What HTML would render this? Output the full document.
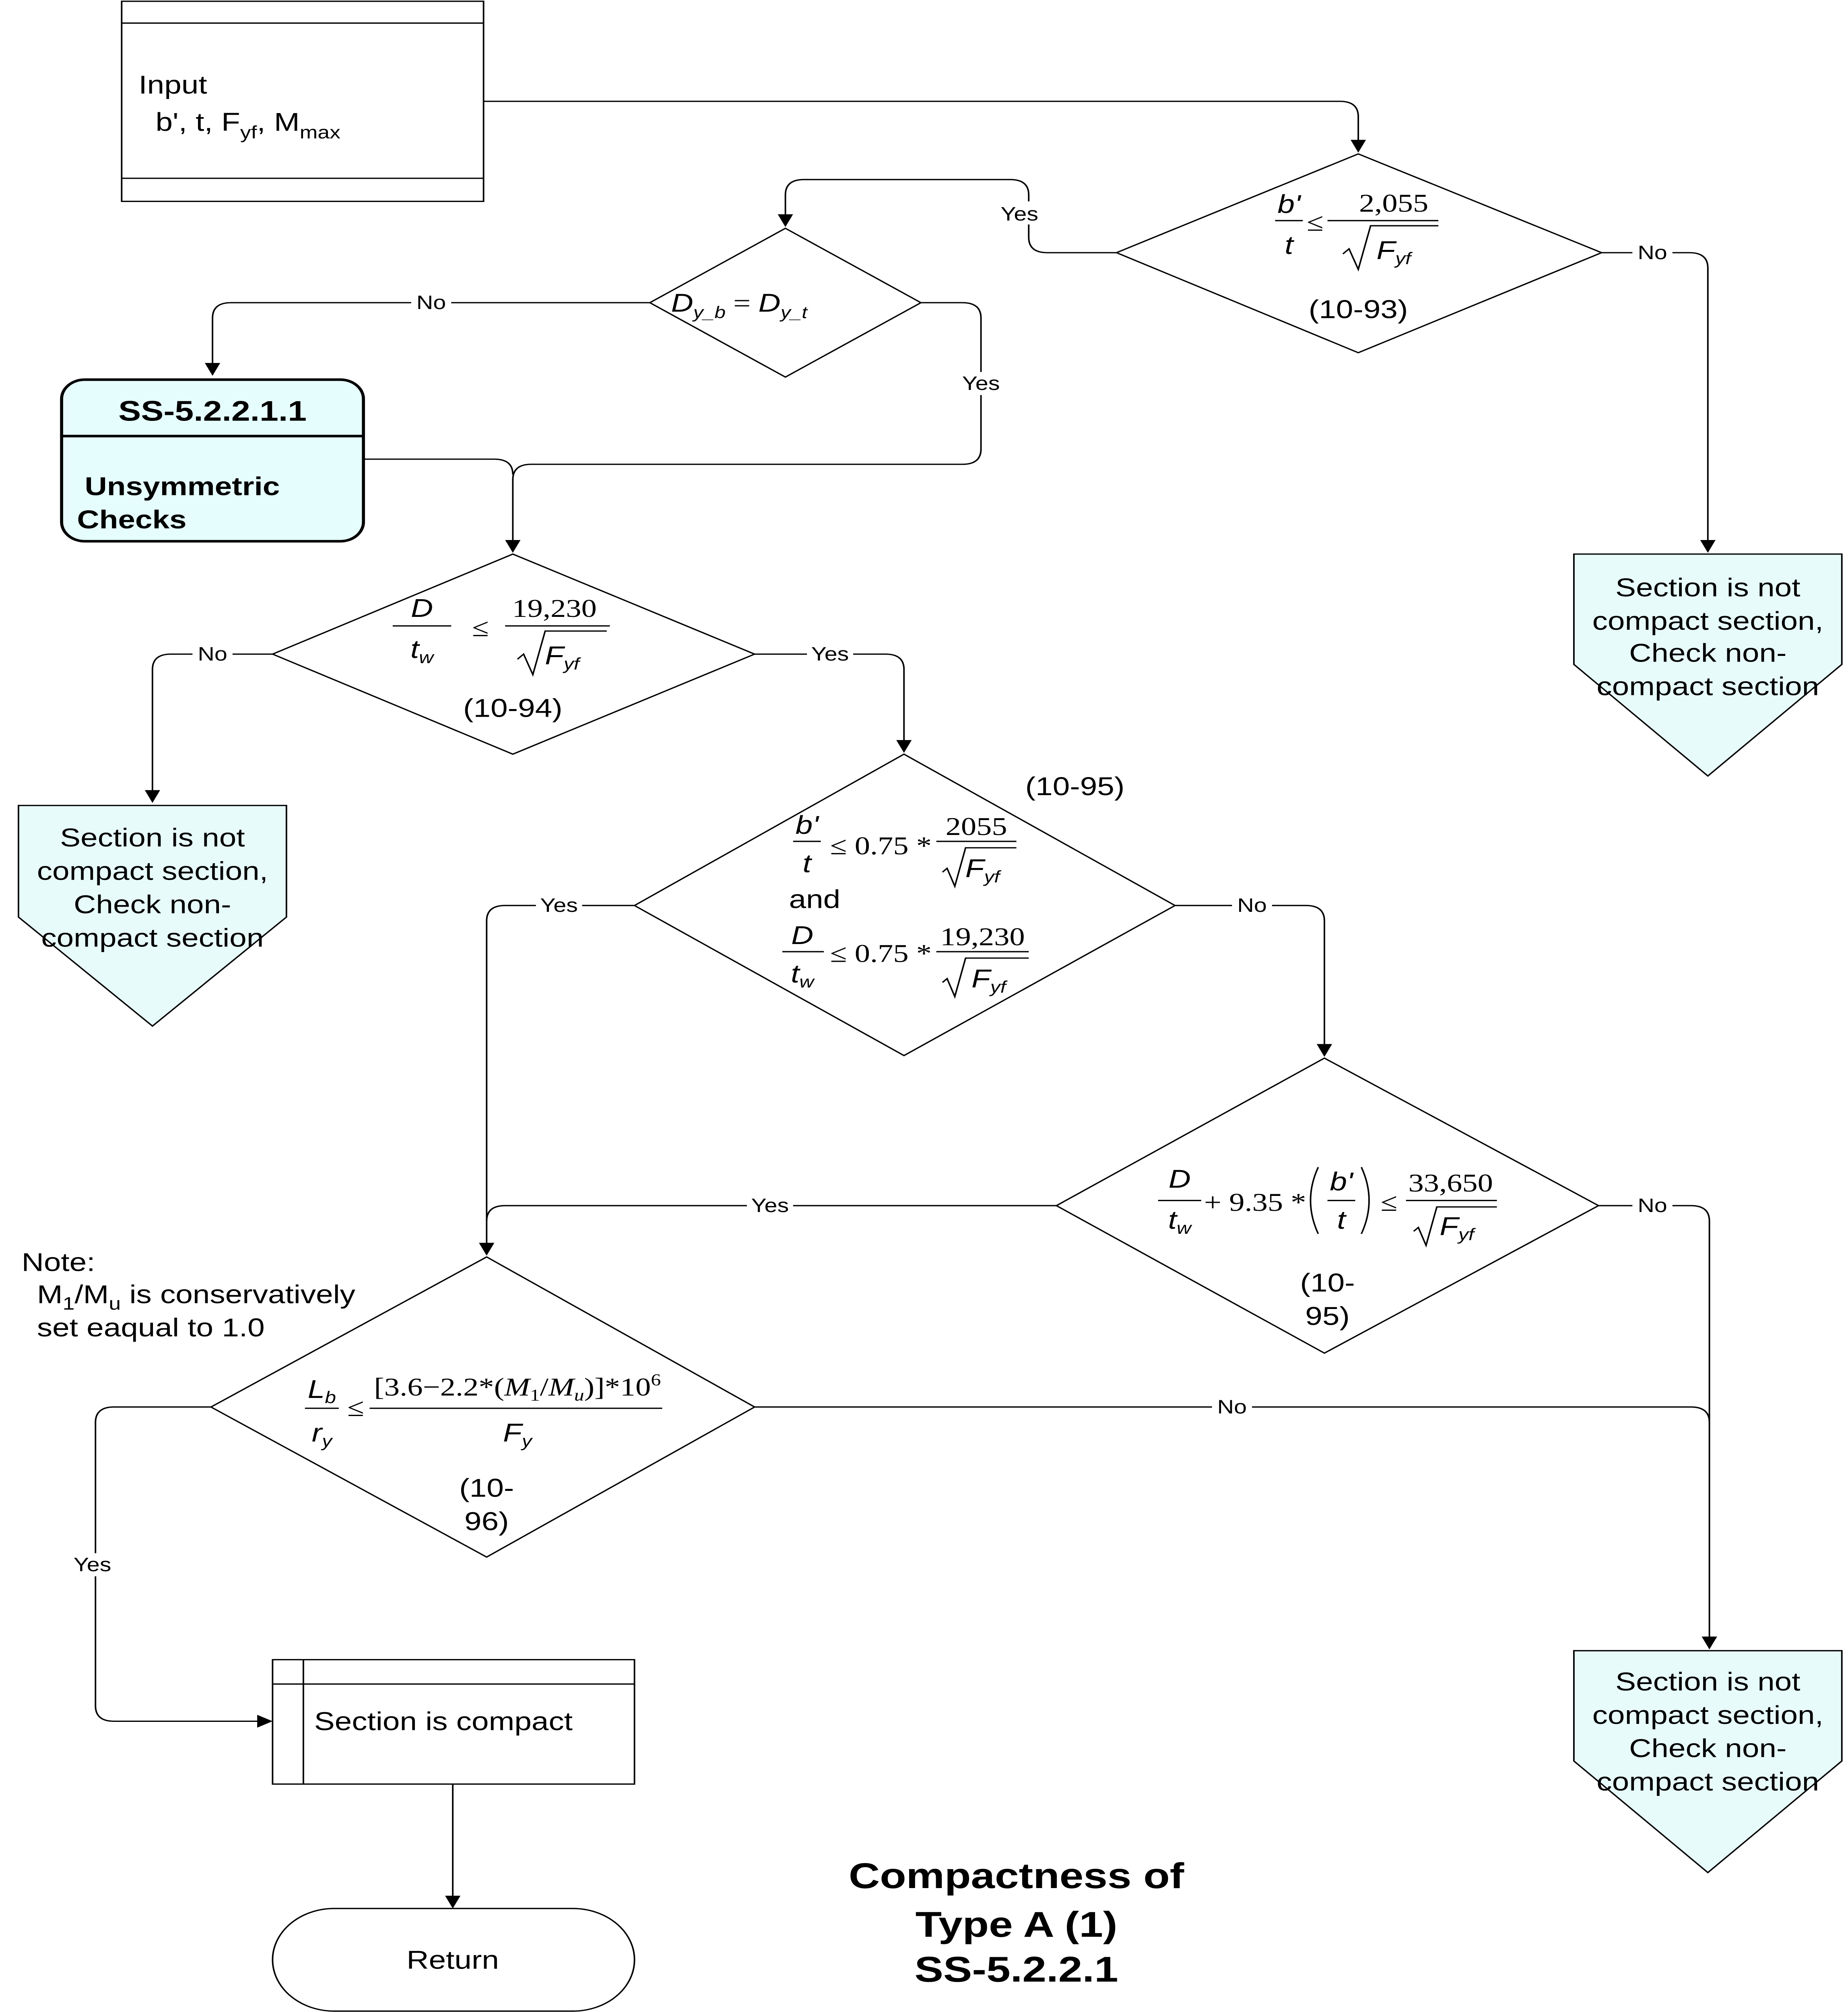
<!DOCTYPE html>
<html><head><meta charset="utf-8"><style>
html,body{margin:0;padding:0;background:#fff;overflow:hidden;}
svg{display:block;position:fixed;left:0;top:0;width:100vw;height:100vh;}
text{font-family:"Liberation Sans",sans-serif;}
.f{font-family:"Liberation Serif",serif;font-style:italic;}
.n{font-family:"Liberation Serif",serif;font-style:normal;}
</style></head><body>
<svg xmlns="http://www.w3.org/2000/svg" viewBox="0 0 1200 1568.7" preserveAspectRatio="none">
<defs><marker id="a" markerWidth="10" markerHeight="10" refX="9" refY="5" orient="auto" markerUnits="userSpaceOnUse"><path d="M0,0 L10,5 L0,10 z" fill="#000"/></marker></defs>
<rect width="1200" height="1568.7" fill="#fff"/>
<g fill="none" stroke="#000" stroke-width="1">
<rect x="79" y="1" width="235" height="156"/>
<line x1="79" y1="18" x2="314" y2="18"/><line x1="79" y1="139" x2="314" y2="139"/>
<path d="M314,79 H870 Q882,79 882,91 V118" marker-end="url(#a)"/>
<path d="M725,197 H680 Q668,197 668,185 V152 Q668,140 656,140 H522 Q510,140 510,152 V176" marker-end="url(#a)"/>
<path d="M1040,197 H1097 Q1109,197 1109,209 V430" marker-end="url(#a)"/>
<path d="M422,236 H150 Q138,236 138,248 V292" marker-end="url(#a)"/>
<path d="M598,236 H625 Q637,236 637,248 V350 Q637,362 625,362 H345 Q333,362 333,374 V430" marker-end="url(#a)"/>
<path d="M236,358 H321 Q333,358 333,370"/>
<path d="M177,510 H111 Q99,510 99,522 V625" marker-end="url(#a)"/>
<path d="M490,510 H575 Q587,510 587,522 V586" marker-end="url(#a)"/>
<path d="M412,706 H328 Q316,706 316,718 V978" marker-end="url(#a)"/>
<path d="M763,706 H848 Q860,706 860,718 V823" marker-end="url(#a)"/>
<path d="M686,940 H328 Q316,940 316,952"/>
<path d="M1038,940 H1098 Q1110,940 1110,952 V1285" marker-end="url(#a)"/>
<path d="M490,1097 H1098 Q1110,1097 1110,1109"/>
<path d="M137,1097 H74 Q62,1097 62,1109 V1330 Q62,1342 74,1342 H176" marker-end="url(#a)"/>
<path d="M294,1391 V1487" marker-end="url(#a)"/>
<path d="M725,197 L882,120 L1040,197 L882,275 Z"/>
<path d="M422,236 L510,178 L598,236 L510,294 Z"/>
<path d="M177,510 L333,432 L490,510 L333,588 Z"/>
<path d="M412,706 L587,588 L763,706 L587,823 Z"/>
<path d="M686,940 L860,825 L1038,940 L860,1055 Z"/>
<path d="M137,1097 L316,980 L490,1097 L316,1214 Z"/>
<rect x="177" y="1294" width="235" height="97"/>
<line x1="177" y1="1313" x2="412" y2="1313"/><line x1="197" y1="1294" x2="197" y2="1391"/>
<rect x="177" y="1488" width="235" height="80" rx="40"/>
</g>
<rect x="40" y="296" width="196" height="126" rx="15" fill="#e6fdfd" stroke="#000" stroke-width="2"/>
<line x1="40" y1="340" x2="236" y2="340" stroke="#000" stroke-width="2"/>
<g fill="#e8fbfb" stroke="#000" stroke-width="1">
<path d="M12,628 H186 V715 L99,800 L12,715 Z"/>
<path d="M1022,432 H1196 V518 L1109,605 L1022,518 Z"/>
<path d="M1022,1287 H1196 V1373 L1109,1460 L1022,1373 Z"/>
</g>
<g font-size="15" text-anchor="middle">
<rect x="648" y="157" width="30" height="18" fill="#fff"/><text x="662" y="172">Yes</text>
<rect x="1060" y="189" width="26" height="16" fill="#fff"/><text x="1073" y="202">No</text>
<rect x="267" y="228" width="26" height="16" fill="#fff"/><text x="280" y="241">No</text>
<rect x="622" y="290" width="30" height="18" fill="#fff"/><text x="637" y="304">Yes</text>
<rect x="125" y="502" width="26" height="16" fill="#fff"/><text x="138" y="515">No</text>
<rect x="524" y="502" width="30" height="16" fill="#fff"/><text x="539" y="515">Yes</text>
<rect x="348" y="698" width="30" height="16" fill="#fff"/><text x="363" y="711">Yes</text>
<rect x="800" y="698" width="26" height="16" fill="#fff"/><text x="813" y="711">No</text>
<rect x="485" y="932" width="30" height="16" fill="#fff"/><text x="500" y="945">Yes</text>
<rect x="1060" y="932" width="26" height="16" fill="#fff"/><text x="1073" y="945">No</text>
<rect x="787" y="1089" width="26" height="16" fill="#fff"/><text x="800" y="1102">No</text>
<rect x="45" y="1211" width="30" height="18" fill="#fff"/><text x="60" y="1225">Yes</text>
</g>
<g font-size="20">
<text x="90" y="73">Input</text>
<text x="101" y="102">b', t, F<tspan font-size="14" dy="6">yf</tspan><tspan dy="-6">, M</tspan><tspan font-size="14" dy="6">max</tspan></text>
<text x="204" y="1349">Section is compact</text>
<text x="294" y="1535" text-anchor="middle">Return</text>
<text x="14" y="991">Note:</text>
<text x="24" y="1016">M<tspan font-size="14" dy="5">1</tspan><tspan dy="-5">/M</tspan><tspan font-size="14" dy="5">u</tspan><tspan dy="-5"> is conservatively</tspan></text>
<text x="24" y="1042">set eaqual to 1.0</text>
<g text-anchor="middle">
<text x="882" y="248">(10-93)</text>
<text x="333" y="559">(10-94)</text>
<text x="698" y="620">(10-95)</text>
<text x="862" y="1007">(10-</text><text x="862" y="1033">95)</text>
<text x="316" y="1167">(10-</text><text x="316" y="1193">96)</text>
<text x="99" y="660">Section is not</text><text x="99" y="686">compact section,</text><text x="99" y="712">Check non-</text><text x="99" y="738">compact section</text>
<text x="1109" y="465">Section is not</text><text x="1109" y="491">compact section,</text><text x="1109" y="516">Check non-</text><text x="1109" y="542">compact section</text>
<text x="1109" y="1318">Section is not</text><text x="1109" y="1344">compact section,</text><text x="1109" y="1370">Check non-</text><text x="1109" y="1396">compact section</text>
<text x="529" y="708">and</text>
</g>
<text x="138" y="328" font-weight="bold" font-size="22" text-anchor="middle">SS-5.2.2.1.1</text>
<text x="55" y="386" font-weight="bold">Unsymmetric</text>
<text x="50" y="412" font-weight="bold">Checks</text>
</g>
<g font-size="28" font-weight="bold" text-anchor="middle">
<text x="660" y="1472">Compactness of</text>
<text x="660" y="1510">Type A (1)</text>
<text x="660" y="1545">SS-5.2.2.1</text>
</g>
<g stroke="#000" stroke-width="1" fill="none">
<line x1="828" y1="172" x2="846" y2="172"/><line x1="862" y1="172" x2="934" y2="172"/>
<path d="M872,198 l4,-4 l6,16 l8,-34 h44"/>
<line x1="328" y1="488" x2="396" y2="488"/>
<path d="M336,514 l4,-4 l6,16 l8,-34 h40"/>
<line x1="255" y1="488" x2="293" y2="488"/>
<line x1="515" y1="656" x2="533" y2="656"/><line x1="608" y1="656" x2="660" y2="656"/>
<path d="M612,680 l3,-3 l5,14 l7,-30 h33"/>
<line x1="508" y1="742" x2="535" y2="742"/><line x1="608" y1="742" x2="668" y2="742"/>
<path d="M612,766 l3,-3 l5,14 l7,-30 h41"/>
<line x1="752" y1="936" x2="780" y2="936"/><line x1="913" y1="936" x2="972" y2="936"/>
<line x1="862" y1="936" x2="880" y2="936"/>
<path d="M856,910 Q846,936 856,962"/><path d="M884,910 Q894,936 884,962"/>
<path d="M918,960 l3,-3 l5,14 l7,-30 h39"/>
<line x1="198" y1="1098" x2="220" y2="1098"/><line x1="240" y1="1098" x2="430" y2="1098"/>
</g>
<g class="f" font-size="20" text-anchor="middle" fill="#000">
<text x="837" y="166">b'</text><text x="837" y="198">t</text>
<text class="n" x="854" y="180">≤</text><text class="n" x="905" y="165">2,055</text><text x="905" y="202">F<tspan font-size="13" dy="4">yf</tspan></text>
<text x="480" y="243">D<tspan font-size="13" dy="5">y_b</tspan><tspan class="n" dy="-5"> = </tspan>D<tspan font-size="13" dy="5">y_t</tspan></text>
<text x="274" y="481">D</text><text x="274" y="513">t<tspan font-size="13" dy="4">w</tspan></text>
<text class="n" x="312" y="496">≤</text><text class="n" x="360" y="481">19,230</text><text x="365" y="518">F<tspan font-size="13" dy="4">yf</tspan></text>
<text x="524" y="650">b'</text><text x="524" y="680">t</text>
<text class="n" x="572" y="666">≤ 0.75 *</text><text class="n" x="634" y="651">2055</text><text x="638" y="684">F<tspan font-size="13" dy="4">yf</tspan></text>
<text x="521" y="736">D</text><text x="521" y="766">t<tspan font-size="13" dy="4">w</tspan></text>
<text class="n" x="572" y="750">≤ 0.75 *</text><text class="n" x="638" y="737">19,230</text><text x="642" y="770">F<tspan font-size="13" dy="4">yf</tspan></text>
<text x="766" y="926">D</text><text x="766" y="958">t<tspan font-size="13" dy="4">w</tspan></text>
<text class="n" x="815" y="944">+ 9.35 *</text><text x="871" y="928">b'</text><text x="871" y="958">t</text>
<text class="n" x="902" y="944">≤</text><text class="n" x="942" y="929">33,650</text><text x="946" y="963">F<tspan font-size="13" dy="4">yf</tspan></text>
<text x="209" y="1090">L<tspan font-size="13" dy="4">b</tspan></text><text x="209" y="1124">r<tspan font-size="13" dy="4">y</tspan></text>
<text class="n" x="231" y="1104">≤</text>
<text class="n" x="336" y="1088">[3.6−2.2*(<tspan class="f">M</tspan><tspan font-size="13" dy="4">1</tspan><tspan dy="-4">/</tspan><tspan class="f">M</tspan><tspan class="f" font-size="13" dy="4">u</tspan><tspan dy="-4">)]*10</tspan><tspan font-size="13" dy="-8">6</tspan></text>
<text x="336" y="1124">F<tspan font-size="13" dy="4">y</tspan></text>
</g>
</svg>
</body></html>
